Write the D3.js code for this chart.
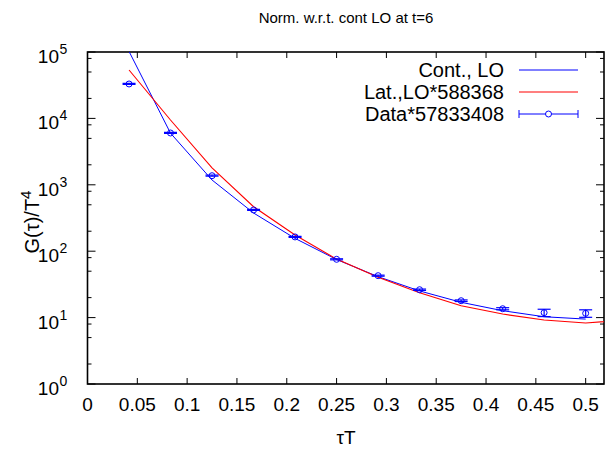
<!DOCTYPE html>
<html><head><meta charset="utf-8">
<script src="https://cdn.jsdelivr.net/npm/d3@7"></script>
<style>body{margin:0;background:#fff}svg{display:block}text{font-family:"Liberation Sans",Arial,Helvetica,sans-serif}</style>
</head><body>
<script>
// ---- data ----
const xTickVals = [0,0.05,0.1,0.15,0.2,0.25,0.3,0.35,0.4,0.45,0.5];
const xTickLabels = ["0","0.05","0.1","0.15","0.2","0.25","0.3","0.35","0.4","0.45","0.5"];
const yTickExps = [0,1,2,3,4,5];
const yMinorMult = [2,5,8];
const tauT = [0.0417,0.0833,0.125,0.1667,0.2083,0.25,0.2917,0.3333,0.375,0.4167,0.4583,0.5];
const dataG = [33000,6030,1371,418,164,75.5,42.8,26.3,17.96,13.6,11.86,11.6];
const dataErr = [600,110,25,8,3,1.4,0.8,0.6,0.5,0.5,1.5,1.5];
const contTau = [0.0417,0.0833,0.125,0.1667,0.2083,0.25,0.2917,0.3333,0.375,0.4167,0.4583,0.5];
const contG = [102000,6000,1181,376,156,75,41.3,25.2,17.0,12.7,10.3,9.5];
const latTau = [0.0417,0.0833,0.125,0.1667,0.2083,0.25,0.2917,0.3333,0.375,0.4167,0.4583,0.5,0.5417];
const latG = [53600,9460,1800,468,175,76,40.4,23.7,15.1,11.3,9.2,8.3,9.2];
const seriesNames = ["Cont., LO","Lat.,LO*588368","Data*57833408"];
const titleText = "Norm. w.r.t. cont LO at t=6";

// ---- layout ----
const W=605,H=449;
const L=87.5,R=604,T=52,B=384;
const x=d3.scaleLinear().domain([0,0.5184]).range([L,R]);
const y=d3.scaleLog().domain([1,1e5]).range([B,T]);
const blue="#0000ff", red="#ff0000";

const svg=d3.select("body").append("svg").attr("width",W).attr("height",H);
svg.append("defs").append("clipPath").attr("id","clip").append("rect")
  .attr("x",L).attr("y",T).attr("width",R-L).attr("height",B-T);

// ticks
const g=svg.append("g").attr("stroke","#000").attr("stroke-width",1);
xTickVals.forEach(v=>{
  g.append("line").attr("x1",x(v)).attr("x2",x(v)).attr("y1",B).attr("y2",B-6);
  g.append("line").attr("x1",x(v)).attr("x2",x(v)).attr("y1",T).attr("y2",T+6);
});
yTickExps.forEach(e=>{
  const v=Math.pow(10,e);
  g.append("line").attr("x1",L).attr("x2",L+8).attr("y1",y(v)).attr("y2",y(v));
  g.append("line").attr("x1",R).attr("x2",R-8).attr("y1",y(v)).attr("y2",y(v));
  if(e<5) yMinorMult.forEach(m=>{
    const mv=m*v;
    g.append("line").attr("x1",L).attr("x2",L+4).attr("y1",y(mv)).attr("y2",y(mv));
    g.append("line").attr("x1",R).attr("x2",R-4).attr("y1",y(mv)).attr("y2",y(mv));
  });
});

// frame
svg.append("rect").attr("x",L).attr("y",T).attr("width",R-L).attr("height",B-T)
  .attr("fill","none").attr("stroke","#000").attr("stroke-width",1.6);

// tick labels
xTickVals.forEach((v,i)=>{
  svg.append("text").attr("x",x(v)).attr("y",411).attr("text-anchor","middle")
    .attr("font-size",19).text(xTickLabels[i]);
});
yTickExps.forEach(e=>{
  const yy=y(Math.pow(10,e));
  svg.append("text").attr("x",59).attr("y",yy+11).attr("text-anchor","end").attr("font-size",19).text("10");
  svg.append("text").attr("x",59.5).attr("y",yy+2).attr("text-anchor","start").attr("font-size",14).text(String(e));
});

// axis labels and title
svg.append("text").attr("x",346).attr("y",444).attr("text-anchor","middle").attr("font-size",19).text("τT");
const yl=svg.append("text").attr("transform","translate(39,222) rotate(-90)").attr("text-anchor","middle").attr("font-size",20);
yl.append("tspan").text("G(τ)/T");
yl.append("tspan").attr("dy",-8).attr("font-size",15).text("4");
svg.append("text").attr("x",346).attr("y",23).attr("text-anchor","middle").attr("font-size",15).text(titleText);

// curves
const plot=svg.append("g").attr("clip-path","url(#clip)");
const line=d3.line().x(d=>x(d[0])).y(d=>y(d[1]));
plot.append("path").datum(contTau.map((t,i)=>[t,contG[i]])).attr("d",line)
  .attr("fill","none").attr("stroke",blue).attr("stroke-width",1);
plot.append("path").datum(latTau.map((t,i)=>[t,latG[i]])).attr("d",line)
  .attr("fill","none").attr("stroke",red).attr("stroke-width",1.1);

// data with error bars
const cap=6.5;
tauT.forEach((t,i)=>{
  const cx=x(t), cy=y(dataG[i]);
  const y1=y(dataG[i]+dataErr[i]), y2=y(dataG[i]-dataErr[i]);
  const dg=plot.append("g").attr("stroke",blue).attr("fill","none").attr("stroke-width",1.2);
  dg.append("line").attr("x1",cx).attr("x2",cx).attr("y1",y1).attr("y2",y2);
  dg.append("line").attr("x1",cx-cap).attr("x2",cx+cap).attr("y1",y1).attr("y2",y1);
  dg.append("line").attr("x1",cx-cap).attr("x2",cx+cap).attr("y1",y2).attr("y2",y2);
  dg.append("circle").attr("cx",cx).attr("cy",cy).attr("r",3).attr("stroke-width",1);
});

// legend
const legY=[70,92,114];
seriesNames.forEach((n,i)=>{
  svg.append("text").attr("x",504).attr("y",legY[i]+7).attr("text-anchor","end").attr("font-size",20).text(n);
});
svg.append("line").attr("x1",519).attr("x2",578).attr("y1",legY[0]).attr("y2",legY[0]).attr("stroke",blue);
svg.append("line").attr("x1",519).attr("x2",578).attr("y1",legY[1]).attr("y2",legY[1]).attr("stroke",red).attr("stroke-width",1.1);
const lg=svg.append("g").attr("stroke",blue).attr("fill","none");
lg.append("line").attr("x1",519).attr("x2",578).attr("y1",legY[2]).attr("y2",legY[2]);
lg.append("line").attr("x1",519).attr("x2",519).attr("y1",legY[2]-4).attr("y2",legY[2]+4);
lg.append("line").attr("x1",578).attr("x2",578).attr("y1",legY[2]-4).attr("y2",legY[2]+4);
lg.append("circle").attr("cx",548.5).attr("cy",legY[2]).attr("r",3).attr("fill","#fff");
</script>
</body></html>
